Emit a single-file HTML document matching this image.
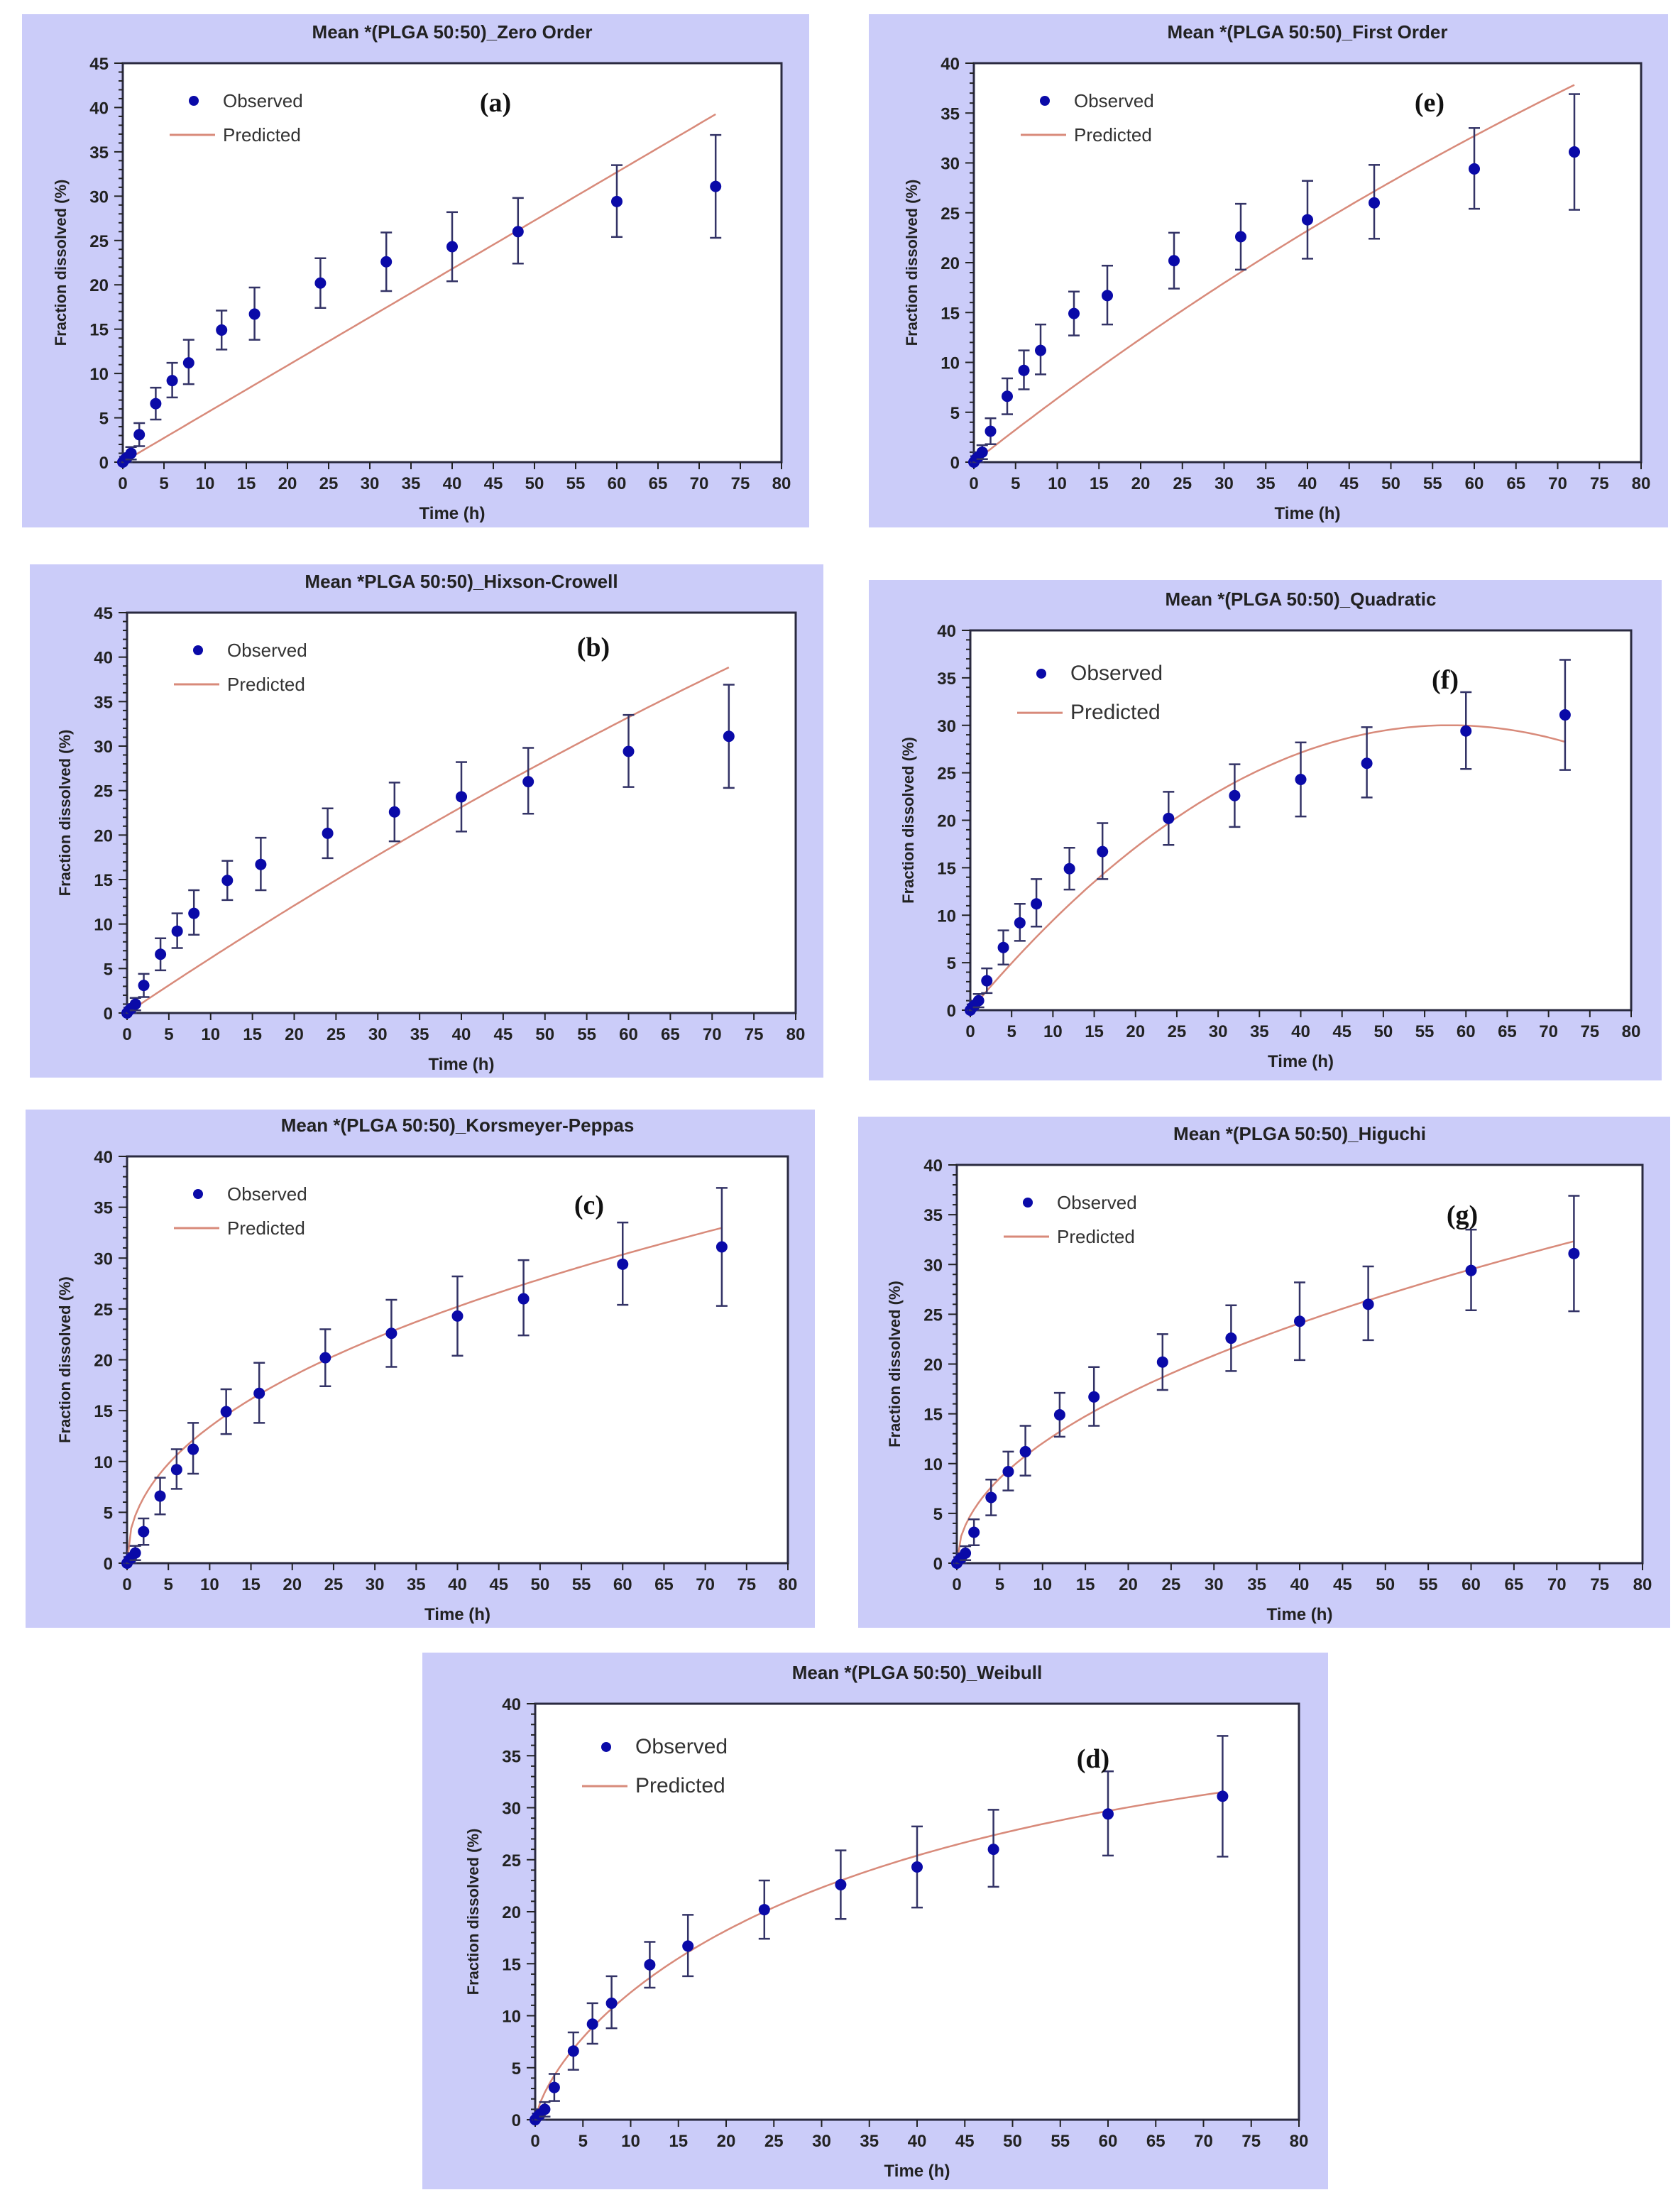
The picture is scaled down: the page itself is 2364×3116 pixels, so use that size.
<!DOCTYPE html>
<html><head><meta charset="utf-8">
<style>
html,body{margin:0;padding:0;background:#fff;}
svg{display:block;}
text{font-family:"Liberation Sans",sans-serif;}
</style></head>
<body>
<svg id="s" width="2364" height="3116" xmlns="http://www.w3.org/2000/svg"></svg>
<script>
const T=[0,0.25,0.5,1,2,4,6,8,12,16,24,32,40,48,60,72];
const Y=[0,0.3,0.5,1,3.1,6.6,9.2,11.2,14.9,16.7,20.2,22.6,24.3,26,29.4,31.1];
const LO=[0,0,0,0.3,1.8,4.8,7.3,8.8,12.7,13.8,17.4,19.3,20.4,22.4,25.4,25.3];
const HI=[0,0.6,1,1.7,4.4,8.4,11.2,13.8,17.1,19.7,23,25.9,28.2,29.8,33.5,36.9];
const P=[
 {bg:[31,20,1140,743],pl:[173,89,1101,651],ym:45,title:"Mean *(PLGA 50:50)_Zero  Order",lab:"(a)",lp:[698,145],f:t=>0.545*t},
 {bg:[1224,20,2350,743],pl:[1372,89,2312,651],ym:40,title:"Mean *(PLGA 50:50)_First  Order",lab:"(e)",lp:[2014,145],f:t=>100*(1-Math.exp(-0.0066*t))},
 {bg:[42,795,1160,1518],pl:[179,863,1121,1427],ym:45,title:"Mean *PLGA 50:50)_Hixson-Crowell",lab:"(b)",lp:[836,912],f:t=>100*(1-Math.pow(1-0.0021*t,3))},
 {bg:[1224,817,2341,1522],pl:[1367,888,2298,1423],ym:40,title:"Mean *(PLGA 50:50)_Quadratic",lab:"(f)",lp:[2036,958],f:t=>0.00892*(116*t-t*t),big:1},
 {bg:[36,1563,1148,2293],pl:[179,1629,1110,2202],ym:40,title:"Mean *(PLGA 50:50)_Korsmeyer-Peppas",lab:"(c)",lp:[830,1698],f:t=>4.69*Math.pow(t,0.456)},
 {bg:[1209,1573,2353,2293],pl:[1348,1641,2314,2202],ym:40,title:"Mean *(PLGA 50:50)_Higuchi",lab:"(g)",lp:[2060,1712],f:t=>3.81*Math.sqrt(t)},
 {bg:[595,2328,1871,3084],pl:[754,2400,1830,2986],ym:40,title:"Mean *(PLGA 50:50)_Weibull",lab:"(d)",lp:[1540,2478],f:t=>40*(1-Math.exp(-Math.pow(t/39.6,0.732))),big:1}
];
let h='';
for(const p of P){
 const [bx0,by0,bx1,by1]=p.bg,[x0,y0,x1,y1]=p.pl;
 const sx=t=>x0+(x1-x0)*t/80, sy=v=>y1-(y1-y0)*v/p.ym;
 h+=`<rect x="${bx0}" y="${by0}" width="${bx1-bx0}" height="${by1-by0}" fill="#cbccf9"/>`;
 h+=`<rect x="${x0}" y="${y0}" width="${x1-x0}" height="${y1-y0}" fill="#fff" stroke="#2a2a40" stroke-width="3"/>`;
 h+=`<text x="${(x0+x1)/2}" y="${y0-35}" font-size="26" font-weight="bold" fill="#222" text-anchor="middle">${p.title}</text>`;
 for(let v=0;v<=p.ym;v++){const y=sy(v);h+=`<line x1="${x0-(v%5?6:12)}" x2="${x0}" y1="${y}" y2="${y}" stroke="#222" stroke-width="2"/>`;
  if(v%5==0)h+=`<text x="${x0-20}" y="${y+9}" font-size="24" font-weight="bold" fill="#222" text-anchor="end">${v}</text>`;}
 for(let t=0;t<=80;t+=5){const x=sx(t);h+=`<line x1="${x}" x2="${x}" y1="${y1}" y2="${y1+10}" stroke="#222" stroke-width="2"/><text x="${x}" y="${y1+38}" font-size="24" font-weight="bold" fill="#222" text-anchor="middle">${t}</text>`;}
 h+=`<text x="${(x0+x1)/2}" y="${y1+80}" font-size="24" font-weight="bold" fill="#222" text-anchor="middle">Time (h)</text>`;
 const cy=(y0+y1)/2;
 h+=`<text transform="translate(${x0-80},${cy}) rotate(-90)" font-size="22" font-weight="bold" fill="#222" text-anchor="middle">Fraction dissolved (%)</text>`;
 let d='';for(let t=0;t<=72;t+=0.5){d+=(t?'L':'M')+sx(t).toFixed(1)+','+sy(p.f(t)).toFixed(1);}
 h+=`<path d="${d}" fill="none" stroke="#d88a7a" stroke-width="2.5"/>`;
 for(let i=0;i<T.length;i++){const x=sx(T[i]);
  if(HI[i]-LO[i]>0.5){h+=`<line x1="${x}" x2="${x}" y1="${sy(LO[i])}" y2="${sy(HI[i])}" stroke="#333366" stroke-width="2.5"/><line x1="${x-8}" x2="${x+8}" y1="${sy(LO[i])}" y2="${sy(LO[i])}" stroke="#333366" stroke-width="2.5"/><line x1="${x-8}" x2="${x+8}" y1="${sy(HI[i])}" y2="${sy(HI[i])}" stroke="#333366" stroke-width="2.5"/>`;}
  h+=`<circle cx="${x}" cy="${sy(Y[i])}" r="8" fill="#0a0aa8"/>`;}
 const fs=p.big?30:26, dy=p.big?1.15:1;
 h+=`<circle cx="${x0+100}" cy="${y0+53*dy}" r="7" fill="#0a0aa8"/><text x="${x0+141}" y="${y0+53*dy+9}" font-size="${fs}" fill="#333">Observed</text>`;
 h+=`<line x1="${x0+66}" x2="${x0+130}" y1="${y0+101*dy}" y2="${y0+101*dy}" stroke="#d88a7a" stroke-width="3"/><text x="${x0+141}" y="${y0+101*dy+9}" font-size="${fs}" fill="#333">Predicted</text>`;
 h+=`<text x="${p.lp[0]}" y="${p.lp[1]+12}" font-size="38" font-weight="bold" fill="#111" text-anchor="middle" style="font-family:'Liberation Serif',serif">${p.lab}</text>`;
}
document.getElementById('s').innerHTML=h;
</script>
</body></html>
